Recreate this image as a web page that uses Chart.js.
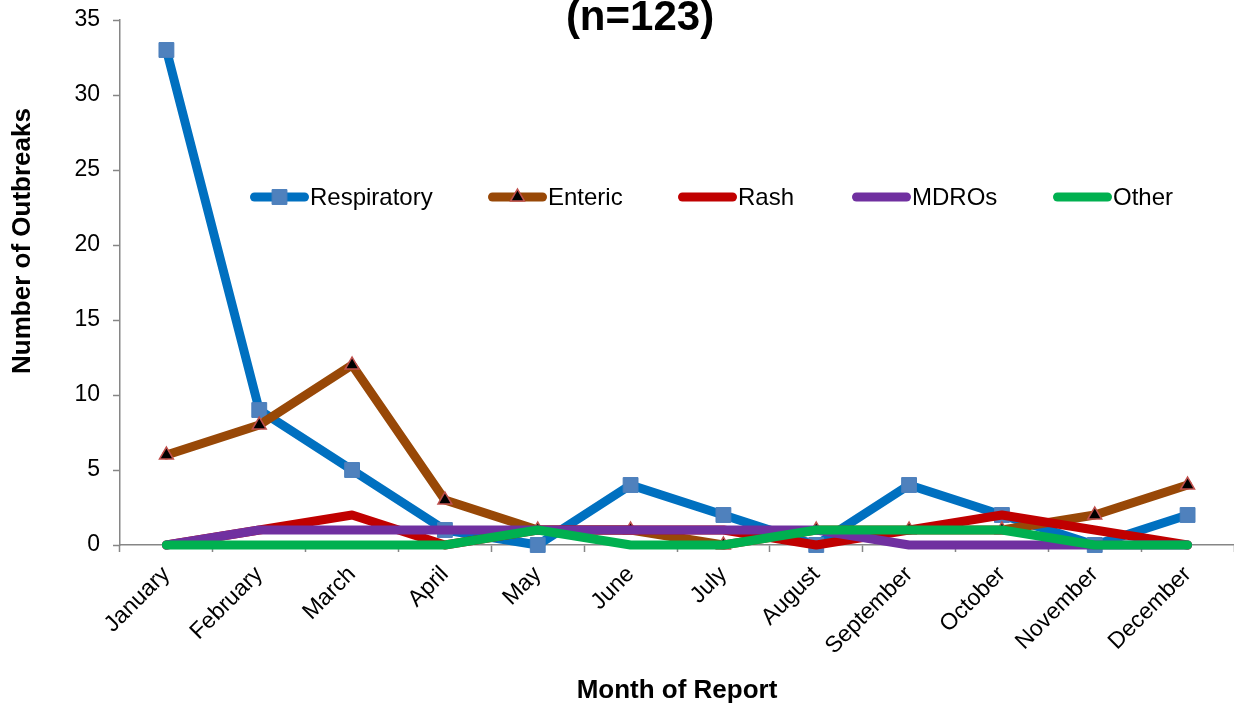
<!DOCTYPE html>
<html>
<head>
<meta charset="utf-8">
<title>Outbreaks by Month of Report</title>
<script src="https://cdn.jsdelivr.net/npm/chart.js@4.4.1/dist/chart.umd.min.js"></script>
<style>
  html, body { margin: 0; padding: 0; background: #ffffff; }
  #wrap { width: 1234px; height: 706px; position: relative; }
</style>
</head>
<body>
<div id="wrap"><canvas id="chart"></canvas></div>
<script>
// Categories and series
const months = ['January', 'February', 'March', 'April', 'May', 'June', 'July',
                'August', 'September', 'October', 'November', 'December'];
const respiratory = [33, 9, 5, 1, 0, 4, 2, 0, 4, 2, 0, 2];
const enteric     = [6, 8, 12, 3, 1, 1, 0, 1, 1, 1, 2, 4];
const rash        = [0, 1, 2, 0, 1, 1, 1, 0, 1, 2, 1, 0];
const mdros       = [0, 1, 1, 1, 1, 1, 1, 1, 0, 0, 0, 0];
const other       = [0, 0, 0, 0, 1, 0, 0, 1, 1, 1, 0, 0];
const seriesNames = ['Respiratory', 'Enteric', 'Rash', 'MDROs', 'Other'];
const yTicks = [0, 5, 10, 15, 20, 25, 30, 35];
const chartTitle = '(n=123)';
const xAxisTitle = 'Month of Report';
const yAxisTitle = 'Number of Outbreaks';

const FONT = "'Liberation Sans', Arial, Helvetica, sans-serif";
const AXIS_GREY = '#868686';
const LINE_W = 9;

function lineSet(label, data, color, order, extra) {
  return Object.assign({
    label, data, order,
    borderColor: color,
    backgroundColor: color,
    borderWidth: LINE_W,
    borderCapStyle: 'round',
    borderJoinStyle: 'round',
    tension: 0,
    fill: false,
    clip: false,
    pointRadius: 0,
    pointHoverRadius: 0
  }, extra || {});
}

const datasets = [
  lineSet(seriesNames[0], respiratory, '#0070C0', 5, {
    pointStyle: 'rect', pointRadius: 10.5,
    pointBackgroundColor: '#4F81BD', pointBorderColor: '#4A7EBB', pointBorderWidth: 1
  }),
  lineSet(seriesNames[1], enteric, '#984807', 4, {
    pointStyle: 'triangle', pointRadius: 8,
    pointBackgroundColor: '#000000', pointBorderColor: '#C0504D', pointBorderWidth: 1.5
  }),
  lineSet(seriesNames[2], rash, '#C00000', 3),
  lineSet(seriesNames[3], mdros, '#7030A0', 2),
  lineSet(seriesNames[4], other, '#00B050', 1)
];

// Draws a point marker in the given dataset's style
function drawMarker(ctx, ds, x, y) {
  if (!ds.pointRadius) return;
  const r = ds.pointRadius;
  ctx.save();
  ctx.fillStyle = ds.pointBackgroundColor;
  ctx.strokeStyle = ds.pointBorderColor;
  ctx.lineWidth = ds.pointBorderWidth;
  ctx.beginPath();
  if (ds.pointStyle === 'rect') {
    const s = Math.SQRT1_2 * r;
    ctx.rect(x - s, y - s, 2 * s, 2 * s);
  } else if (ds.pointStyle === 'triangle') {
    let a = 0;
    ctx.moveTo(x + Math.sin(a) * r, y - Math.cos(a) * r);
    a += 2 * Math.PI / 3;
    ctx.lineTo(x + Math.sin(a) * r, y - Math.cos(a) * r);
    a += 2 * Math.PI / 3;
    ctx.lineTo(x + Math.sin(a) * r, y - Math.cos(a) * r);
    ctx.closePath();
  }
  ctx.fill();
  if (ds.pointBorderWidth > 0) ctx.stroke();
  ctx.restore();
}

// Title, rotated y-axis title and the in-plot legend
const decorations = {
  id: 'decorations',
  afterDraw(chart) {
    const ctx = chart.ctx;
    ctx.save();
    ctx.fillStyle = '#000';

    // chart title (upper part runs off the top edge)
    ctx.font = 'bold 42px ' + FONT;
    ctx.textAlign = 'center';
    ctx.textBaseline = 'alphabetic';
    ctx.fillText(chartTitle, 640, 30);

    // y-axis title
    ctx.save();
    ctx.translate(23, 241);
    ctx.rotate(-Math.PI / 2);
    ctx.font = 'bold 26px ' + FONT;
    ctx.textAlign = 'center';
    ctx.textBaseline = 'middle';
    ctx.fillText(yAxisTitle, 0, 0);
    ctx.restore();

    // legend
    const starts = [250, 488, 678, 852, 1053];
    const sampleLen = 59;
    const ly = 197;
    ctx.font = '24px ' + FONT;
    ctx.textAlign = 'left';
    ctx.textBaseline = 'middle';
    chart.data.datasets.forEach((ds, i) => {
      const x0 = starts[i];
      ctx.save();
      ctx.strokeStyle = ds.borderColor;
      ctx.lineWidth = LINE_W;
      ctx.lineCap = 'round';
      ctx.beginPath();
      ctx.moveTo(x0 + LINE_W / 2, ly);
      ctx.lineTo(x0 + sampleLen - LINE_W / 2, ly);
      ctx.stroke();
      ctx.restore();
      drawMarker(ctx, ds, x0 + sampleLen / 2, ly);
      ctx.fillStyle = '#000';
      ctx.fillText(ds.label, x0 + sampleLen + 1, ly + 1);
    });
    ctx.restore();
  }
};

new Chart(document.getElementById('chart'), {
  type: 'line',
  data: { labels: months, datasets },
  options: {
    responsive: true,
    maintainAspectRatio: false,
    animation: false,
    layout: { autoPadding: false, padding: { top: 20, right: 0, bottom: 0, left: 0 } },
    plugins: {
      legend: { display: false },
      title: { display: false },
      tooltip: { enabled: false }
    },
    scales: {
      x: {
        offset: true,
        grid: {
          offset: true,
          drawOnChartArea: false,
          drawTicks: true,
          tickLength: 7,
          tickColor: AXIS_GREY,
          tickWidth: 1.5
        },
        border: { display: true, color: AXIS_GREY, width: 1.5 },
        ticks: {
          color: '#000',
          font: { family: FONT, size: 23 },
          minRotation: 45,
          maxRotation: 45,
          autoSkip: false,
          padding: 9
        },
        title: {
          display: true,
          text: xAxisTitle,
          color: '#000',
          font: { family: FONT, size: 26, weight: 'bold' },
          padding: { top: 0, bottom: 0 }
        },
        afterFit(scale) {
          scale.height = 161;
          scale.paddingLeft = 0;
          scale.paddingRight = 0;
        }
      },
      y: {
        min: 0,
        max: 35,
        afterBuildTicks(scale) { scale.ticks = yTicks.map(v => ({ value: v })); },
        grid: {
          drawOnChartArea: false,
          drawTicks: true,
          tickLength: 7,
          tickColor: AXIS_GREY,
          tickWidth: 1.5
        },
        border: { display: true, color: AXIS_GREY, width: 1.5 },
        ticks: {
          color: '#000',
          font: { family: FONT, size: 23 },
          padding: 13
        },
        afterFit(scale) {
          scale.width = 120;
          scale.paddingTop = 0;
          scale.paddingBottom = 0;
        }
      }
    }
  },
  plugins: [decorations]
});
</script>
</body>
</html>
